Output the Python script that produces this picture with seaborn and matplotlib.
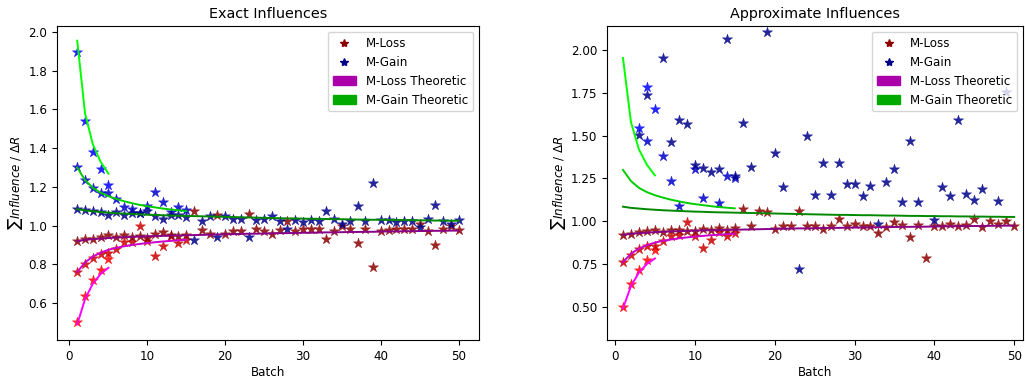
import numpy as np
import pandas as pd
import seaborn as sns
import matplotlib.pyplot as plt
from matplotlib.lines import Line2D
from matplotlib.patches import Patch

plt.rcParams['font.size'] = 8.6

nan = np.nan

batch5 = list(range(1, 6))
batch15 = list(range(1, 16))
batch50 = list(range(1, 51))

# theoretic curves (same on both panels)
gain_theo_5 = [1.955, 1.58, 1.42, 1.33, 1.268]
gain_theo_15 = [1.30, 1.235, 1.195, 1.17, 1.152, 1.138, 1.126, 1.116, 1.107, 1.10,
                1.094, 1.088, 1.083, 1.079, 1.075]
gain_theo_50 = [1.085, 1.078, 1.074, 1.070, 1.067, 1.064, 1.062, 1.060, 1.058, 1.056,
                1.055, 1.053, 1.052, 1.051, 1.050, 1.049, 1.048, 1.047, 1.046, 1.045,
                1.044, 1.043, 1.042, 1.041, 1.040, 1.039, 1.038, 1.037, 1.037, 1.036,
                1.035, 1.035, 1.034, 1.033, 1.033, 1.032, 1.031, 1.031, 1.030, 1.030,
                1.029, 1.029, 1.028, 1.028, 1.027, 1.027, 1.026, 1.026, 1.025, 1.025]
loss_theo_5 = [0.49, 0.62, 0.70, 0.75, 0.782]
loss_theo_15 = [0.76, 0.81, 0.84, 0.86, 0.875, 0.885, 0.893, 0.90, 0.905, 0.91,
                0.914, 0.918, 0.921, 0.924, 0.927]
loss_theo_50 = [0.920, 0.926, 0.930, 0.933, 0.936, 0.938, 0.940, 0.942, 0.943, 0.945,
                0.946, 0.947, 0.948, 0.949, 0.950, 0.951, 0.952, 0.953, 0.954, 0.955,
                0.956, 0.957, 0.958, 0.958, 0.959, 0.960, 0.961, 0.961, 0.962, 0.963,
                0.963, 0.964, 0.965, 0.965, 0.966, 0.967, 0.967, 0.968, 0.968, 0.969,
                0.970, 0.970, 0.971, 0.971, 0.972, 0.972, 0.973, 0.973, 0.974, 0.974]

# exact influences
ex_loss_5 = [0.502, 0.636, 0.718, 0.773, 0.825]
ex_loss_15 = [0.76, 0.803, 0.834, 0.851, 0.856, 0.88, 0.915, 0.915, 1.0, 0.92,
              0.842, 0.897, 0.945, 0.91, 0.925]
ex_loss_50 = [0.919, 0.932, 0.932, 0.94, 0.949, 0.94, 0.949, 0.94, 0.945, 0.935,
              0.955, 0.965, 0.95, 0.945, 0.95,
              1.074, 0.975, 0.954, 1.057, 0.958, 0.971, 0.971, 1.061, 0.98, 0.971,
              0.959, 0.975, 1.023, 0.971, 0.984, 0.98, 0.98, 0.933, 0.971, 0.997,
              0.98, 0.911, 0.98, 0.785, 0.971, 0.977, 0.984, 0.98, 0.984, 1.01,
              0.971, 0.902, 0.98, 1.0, 0.977]
ex_gain_5 = [1.897, 1.539, 1.381, 1.29, 1.21]
ex_gain_15 = [1.303, 1.238, 1.195, 1.169, 1.166, 1.138, 1.097, 1.087, 1.066, 1.10,
              1.174, 1.121, 1.069, 1.097, 1.083]
ex_gain_50 = [1.088, 1.078, 1.074, 1.069, 1.056, 1.069, 1.057, 1.066, 1.066, 1.074,
              1.052, 1.035, 1.057, 1.057, 1.043,
              0.928, 1.026, 1.048, 0.942, 1.048, 1.035, 1.035, 0.942, 1.031, 1.035,
              1.048, 1.026, 0.98, 1.031, 1.018, 1.028, 1.025, 1.074, 1.036, 1.01,
              1.026, 1.10, 1.023, 1.221, 1.031, 1.031, 1.02, 1.026, 1.023, 0.994,
              1.035, 1.104, 1.023, 1.01, 1.028]

# approximate influences
ap_loss_5 = [0.50, 0.634, 0.717, 0.772, 0.83]
ap_loss_15 = [0.762, 0.805, 0.838, 0.853, 0.856, 0.883, 0.916, 0.92, 0.996, 0.912,
              0.844, 0.892, 0.935, 0.912, 0.931]
ap_loss_50 = [0.918, 0.927, 0.935, 0.941, 0.951, 0.935, 0.951, 0.947, 0.941, 0.941,
              0.955, 0.951, 0.96, 0.951, 0.96,
              1.071, 0.974, 1.058, 1.054, 0.955, 0.97, 0.97, 1.058, 0.974, 0.97,
              0.955, 0.974, 1.013, 0.974, 0.986, 0.974, 0.974, 0.931, 0.966, 0.996,
              0.98, 0.908, 0.98, 0.786, 0.97, 0.97, 0.986, 0.974, 0.98, 1.013,
              0.966, 0.999, 0.986, 0.999, 0.97]
ap_gain_5 = [nan, nan, 1.544, 1.786, 1.656]
ap_gain_15 = [nan, nan, nan, 1.471, nan, 1.382, 1.238, 1.087, nan, 1.305,
              1.136, nan, 1.106, 1.266, 1.255]
ap_gain_50 = [nan, nan, 1.505, 1.738, nan, 1.952, 1.462, 1.592, 1.569, 1.33,
              1.31, 1.285, 1.305, 2.068, 1.266,
              1.575, 1.317, nan, 2.105, 1.40, 1.203, nan, 0.722, 1.50, 1.155,
              1.34, 1.155, 1.34, 1.219, 1.219, 1.145, 1.207, 0.986, 1.232, 1.306,
              1.11, 1.471, 1.11, nan, 1.009, 1.203, 1.145, 1.592, 1.16, 1.126,
              1.19, nan, 1.116, 1.757, nan]

red_cols = ['#ff0000', '#cc0000', '#8b0000']
blue_cols = ['#0000ff', '#0000cc', '#00008b']
mag_cols = ['#ff00ff', '#cc00cc', '#880088']
grn_cols = ['#00ff00', '#00cc00', '#008800']
batches = [batch5, batch15, batch50]


def panel(ax, losses, gains, title, xlim, ylim, yticks, fmt):
    loss_theo = [loss_theo_5, loss_theo_15, loss_theo_50]
    gain_theo = [gain_theo_5, gain_theo_15, gain_theo_50]
    for i, b in enumerate(batches):
        sns.lineplot(x=b, y=gain_theo[i], ax=ax, color=grn_cols[i], linewidth=1.4)
        sns.lineplot(x=b, y=loss_theo[i], ax=ax, color=mag_cols[i], linewidth=1.4)
    for i, b in enumerate(batches):
        df = pd.DataFrame({'x': b, 'loss': losses[i], 'gain': gains[i]})
        sns.scatterplot(data=df, x='x', y='loss', ax=ax, marker='*', s=60,
                        color=red_cols[i], linewidth=0.3, edgecolor=red_cols[i], alpha=0.85)
        sns.scatterplot(data=df, x='x', y='gain', ax=ax, marker='*', s=60,
                        color=blue_cols[i], linewidth=0.3, edgecolor=blue_cols[i], alpha=0.85)
    ax.set_xlim(*xlim)
    ax.set_ylim(*ylim)
    ax.set_yticks(yticks)
    ax.set_yticklabels([fmt.format(t) for t in yticks])
    ax.set_xticks([0, 10, 20, 30, 40, 50])
    ax.set_title(title, fontsize=10.4)
    ax.set_xlabel('Batch', labelpad=2)
    ax.set_ylabel(r'$\sum Influence\ /\ \Delta R$', labelpad=2)
    handles = [
        Line2D([], [], marker='*', linestyle='none', color='#8b0000', markersize=6),
        Line2D([], [], marker='*', linestyle='none', color='#00008b', markersize=6),
        Patch(color='#aa00aa'),
        Patch(color='#00aa00'),
    ]
    ax.legend(handles, ['M-Loss', 'M-Gain', 'M-Loss Theoretic', 'M-Gain Theoretic'],
              loc='upper right', fontsize=8.6)


fig = plt.figure(figsize=(10.25, 3.81), dpi=100)
ax1 = fig.add_axes([57 / 1025, 41 / 381, 422 / 1025, 314 / 381])
ax2 = fig.add_axes([607 / 1025, 41 / 381, 416 / 1025, 314 / 381])

panel(ax1, [ex_loss_5, ex_loss_15, ex_loss_50], [ex_gain_5, ex_gain_15, ex_gain_50],
      'Exact Influences', (-1.6, 52.6), (0.409, 2.031),
      [0.6, 0.8, 1.0, 1.2, 1.4, 1.6, 1.8, 2.0], '{:.1f}')
panel(ax2, [ap_loss_5, ap_loss_15, ap_loss_50], [ap_gain_5, ap_gain_15, ap_gain_50],
      'Approximate Influences', (-1.0, 51.1), (0.305, 2.142),
      [0.5, 0.75, 1.0, 1.25, 1.5, 1.75, 2.0], '{:.2f}')

fig.savefig('out.png', dpi=100)
